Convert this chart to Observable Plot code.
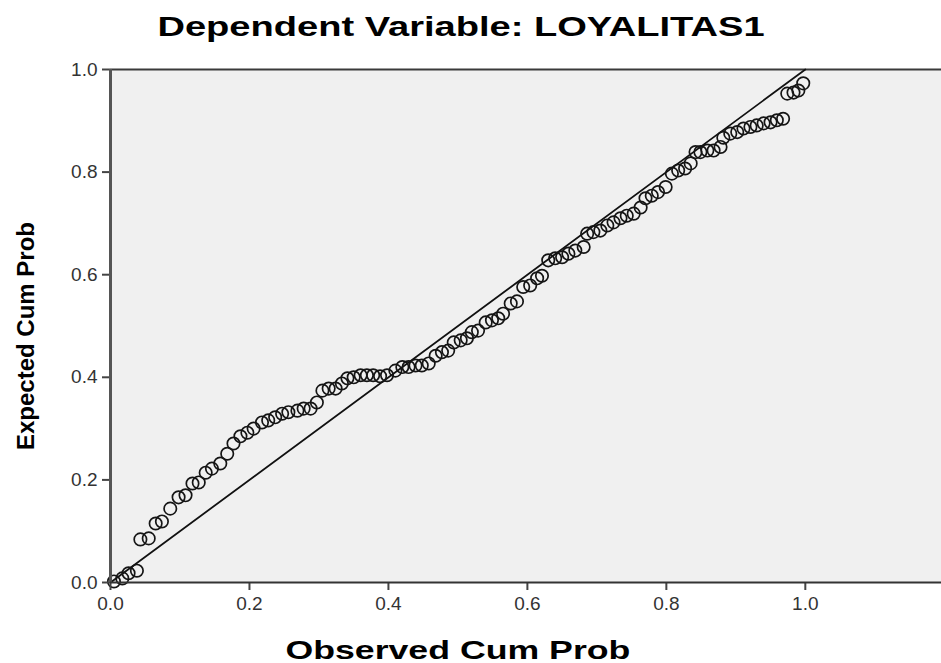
<!DOCTYPE html>
<html>
<head>
<meta charset="utf-8">
<script src="https://cdn.jsdelivr.net/npm/d3@7"></script>
<script src="https://cdn.jsdelivr.net/npm/@observablehq/plot@0.6"></script>
<style>
  html, body { margin: 0; padding: 0; background: #ffffff; }
  body { width: 941px; height: 663px; overflow: hidden; font-family: "Liberation Sans", Arial, sans-serif; }
  #title { height: 58px; width: 941px; position: relative; }
  #title span { position: absolute; left: 461px; top: 12px; font-weight: bold; font-size: 27px; color: #000;
    white-space: nowrap; transform: translateX(-50%) scaleX(1.41); transform-origin: center; }
  #chart svg { display: block; }
</style>
</head>
<body>
<div id="title"><span>Dependent Variable: LOYALITAS1</span></div>
<div id="chart"></div>
<script>
// Observed cumulative probability (x) and expected cumulative probability (y)
const obsCum = [0.005, 0.017, 0.026, 0.038, 0.043, 0.055, 0.065, 0.074, 0.086, 0.098,
  0.108, 0.118, 0.127, 0.137, 0.146, 0.158, 0.168, 0.177, 0.187, 0.197,
  0.206, 0.218, 0.227, 0.237, 0.247, 0.256, 0.269, 0.278, 0.288, 0.297,
  0.305, 0.314, 0.324, 0.333, 0.341, 0.350, 0.360, 0.369, 0.378, 0.388,
  0.398, 0.410, 0.420, 0.429, 0.439, 0.448, 0.458, 0.468, 0.477, 0.486,
  0.494, 0.504, 0.513, 0.520, 0.529, 0.540, 0.549, 0.558, 0.565, 0.576,
  0.585, 0.594, 0.604, 0.614, 0.621, 0.630, 0.640, 0.650, 0.659, 0.669,
  0.681, 0.686, 0.695, 0.705, 0.715, 0.724, 0.734, 0.743, 0.753, 0.763,
  0.770, 0.779, 0.788, 0.799, 0.808, 0.817, 0.827, 0.835, 0.842, 0.849,
  0.859, 0.868, 0.878, 0.882, 0.892, 0.902, 0.911, 0.921, 0.930, 0.940,
  0.950, 0.959, 0.968, 0.974, 0.983, 0.990, 0.997];
const expCum = [0.002, 0.008, 0.018, 0.023, 0.084, 0.086, 0.115, 0.119, 0.144, 0.166,
  0.170, 0.193, 0.195, 0.214, 0.222, 0.232, 0.251, 0.271, 0.285, 0.292,
  0.300, 0.312, 0.316, 0.322, 0.329, 0.332, 0.335, 0.339, 0.339, 0.351,
  0.374, 0.378, 0.378, 0.388, 0.398, 0.400, 0.404, 0.404, 0.404, 0.402,
  0.404, 0.413, 0.420, 0.420, 0.423, 0.423, 0.427, 0.442, 0.449, 0.452,
  0.468, 0.472, 0.476, 0.488, 0.491, 0.507, 0.511, 0.515, 0.524, 0.544,
  0.548, 0.576, 0.579, 0.593, 0.598, 0.628, 0.632, 0.634, 0.641, 0.647,
  0.654, 0.680, 0.683, 0.686, 0.696, 0.702, 0.710, 0.715, 0.719, 0.731,
  0.749, 0.754, 0.761, 0.771, 0.797, 0.803, 0.807, 0.817, 0.839, 0.839,
  0.842, 0.842, 0.849, 0.867, 0.875, 0.878, 0.885, 0.888, 0.891, 0.895,
  0.897, 0.901, 0.904, 0.953, 0.955, 0.959, 0.973];
const refLine = [0, 1];
const xTicks = [0, 0.2, 0.4, 0.6, 0.8, 1.0];
const yTicks = [0, 0.2, 0.4, 0.6, 0.8, 1.0];
const xTitle = "Observed Cum Prob";
const yTitle = "Expected Cum Prob";

const points = obsCum.map((x, i) => ({x, y: expCum[i]}));
const diag = refLine.map(v => ({x: v, y: v}));

const chart = Plot.plot({
  width: 941,
  height: 605,
  marginLeft: 110,
  marginRight: 0,
  marginTop: 11,
  marginBottom: 81,
  style: {background: "#ffffff", fontFamily: "'Liberation Sans', Arial, sans-serif", overflow: "visible"},
  x: {domain: [0, 1.196], label: null},
  y: {domain: [0, 1], label: null},
  marks: [
    Plot.frame({fill: "#f0f0f0", stroke: null}),
    Plot.ruleY([1], {stroke: "#3a3a3a", strokeWidth: 2}),
    Plot.line(diag, {x: "x", y: "y", stroke: "#111", strokeWidth: 1.8}),
    Plot.dot(points, {x: "x", y: "y", r: 6.2, stroke: "#151515", strokeWidth: 1.7, fill: "none"}),
    Plot.axisX({ticks: xTicks, tickFormat: d3.format(".1f"), tickSize: 8, tickPadding: 6,
      fontSize: 19, stroke: "#444", strokeWidth: 2, fill: "#333", label: null}),
    Plot.axisY({ticks: yTicks, tickFormat: d3.format(".1f"), tickSize: 8, tickPadding: 5,
      fontSize: 19, stroke: "#444", strokeWidth: 2, fill: "#333", label: null}),
    Plot.ruleX([0], {stroke: "#555", strokeWidth: 3}),
    Plot.ruleY([0], {stroke: "#333", strokeWidth: 2}),
    Plot.text([xTitle], {x: 0.5, frameAnchor: "bottom", dy: 76, text: d => d, fontSize: 25,
      fontWeight: "bold", fill: "#000"}),
    Plot.text([yTitle], {frameAnchor: "left", textAnchor: "middle", dx: -84, dy: 10, rotate: -90, text: d => d, fontSize: 24,
      fontWeight: "bold", fill: "#000"})
  ]
});
document.getElementById("chart").appendChild(chart);
chart.querySelectorAll("text").forEach(t => {
  if (t.textContent === xTitle) {
    t.setAttribute("textLength", "345");
    t.setAttribute("lengthAdjust", "spacingAndGlyphs");
  }
});
</script>
</body>
</html>
